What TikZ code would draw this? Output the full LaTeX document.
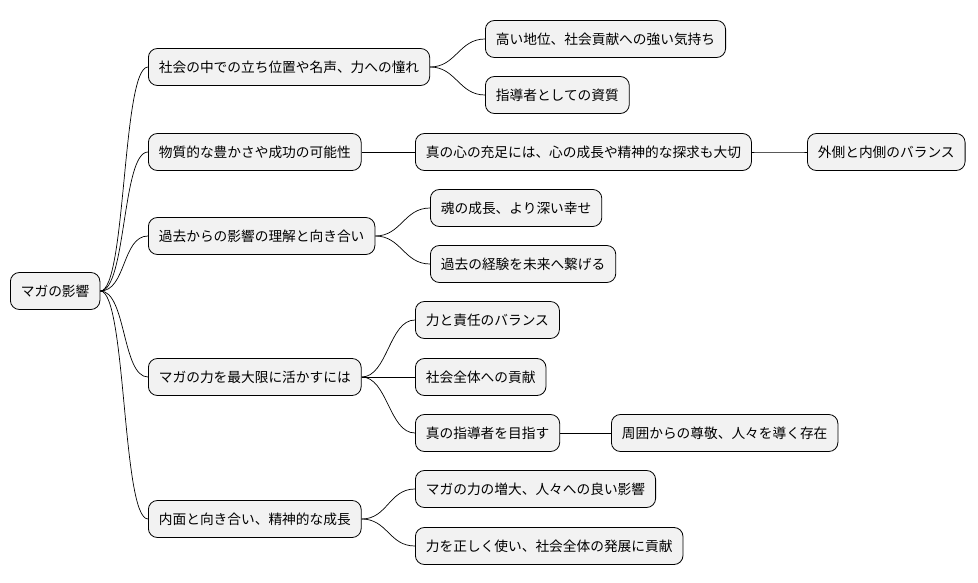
\documentclass[tikz,border=0pt]{standalone}
\usepackage{fontspec}
\setmainfont{Noto Sans CJK JP}
\begin{document}
\begin{tikzpicture}[x=1pt,y=-1pt,
  n/.style={draw=black,line width=0.8pt,fill=black!5,rounded corners=9pt,anchor=west,
    minimum height=37pt,inner xsep=10.5pt,font=\fontsize{13.7pt}{15pt}\selectfont},
  c/.style={line width=0.7pt}]
\useasboundingbox (0,0) rectangle (978,583);
\node[n] (r) at (10,291) {マガの影響};
\node[n] (a) at (148,67) {社会の中での立ち位置や名声、力への憧れ};
\node[n] (a1) at (485,39) {高い地位、社会貢献への強い気持ち};
\node[n] (a2) at (485,95) {指導者としての資質};
\node[n] (b) at (148,152) {物質的な豊かさや成功の可能性};
\node[n] (b1) at (415,152) {真の心の充足には、心の成長や精神的な探求も大切};
\node[n] (b2) at (807,152) {外側と内側のバランス};
\node[n] (d) at (148,236) {過去からの影響の理解と向き合い};
\node[n] (d1) at (430,208) {魂の成長、より深い幸せ};
\node[n] (d2) at (430,264) {過去の経験を未来へ繋げる};
\node[n] (e) at (148,377) {マガの力を最大限に活かすには};
\node[n] (e1) at (415,320) {力と責任のバランス};
\node[n] (e2) at (415,377) {社会全体への貢献};
\node[n] (e3) at (415,433) {真の指導者を目指す};
\node[n] (e4) at (611,433) {周囲からの尊敬、人々を導く存在};
\node[n] (f) at (148,519) {内面と向き合い、精神的な成長};
\node[n] (f1) at (415,489) {マガの力の増大、人々への良い影響};
\node[n] (f2) at (415,546) {力を正しく使い、社会全体の発展に貢献};
\foreach \p/\q in {r/a,r/b,r/d,r/e,r/f,a/a1,a/a2,b/b1,b1/b2,d/d1,d/d2,e/e1,e/e2,e/e3,e3/e4,f/f1,f/f2}
  \draw[c] (\p.east) .. controls +(26,0) and +(-26,0) .. (\q.west);
\end{tikzpicture}
\end{document}
